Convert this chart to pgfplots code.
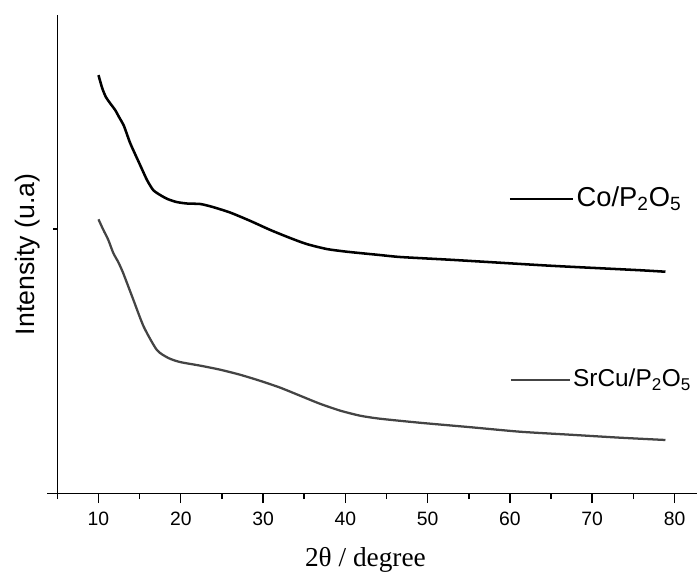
\documentclass[border=0pt]{standalone}
\usepackage{pgfplots}
\pgfplotsset{compat=1.18}
\usepackage{fontspec}
\setmainfont{Liberation Sans}
\newfontfamily\serif{Liberation Serif}
\definecolor{greyc}{RGB}{68,68,68}

\pgfplotstableread{
x y
10.0 418.7
10.45 405.7
10.9 396.7
11.4 390.7
12.03 383.7
12.5 376.7
13.1 367.7
13.85 350.7
14.95 330.7
15.9 313.7
16.65 303.7
17.5 298.7
18.4 294.7
19.5 291.7
20.8 290.2
22.4 289.7
23.9 286.7
26.0 281.2
28.4 273.0
30.9 263.7
33.3 255.7
35.3 249.7
37.75 244.7
40.2 242.0
44.2 238.7
46.7 236.7
52.7 234.0
58.8 231.0
64.9 228.0
70.9 225.5
75.8 223.5
78.9 222.0
}\cop

\pgfplotstableread{
x y
10.0 274.4
10.6 263.7
11.2 253.7
11.8 240.7
12.4 231.7
13.0 220.7
14.25 193.7
15.5 167.0
17.1 143.7
18.5 135.7
19.9 131.7
22.4 128.0
24.8 124.0
27.2 119.0
29.6 113.0
32.1 106.0
34.5 98.0
36.9 90.0
39.4 83.0
41.8 78.0
44.2 75.0
49.0 71.0
55.2 66.5
61.2 62.0
67.3 59.0
73.4 56.0
78.9 53.7
}\srcu

\begin{document}
\begin{tikzpicture}
\begin{axis}[
  at={(0,0)}, anchor=south west,
  scale only axis,
  width=493.8pt, height=359pt,
  xmin=5, xmax=85,
  ymin=0, ymax=478.7,
  axis x line*=bottom,
  axis y line*=left,
  axis line style={line width=1.2pt},
  xtick={10,20,...,80},
  minor xtick={5,15,...,85},
  ytick=\empty,
  tick align=outside,
  major tick length=7pt,
  minor tick length=4pt,
  every tick/.style={black, line width=1.1pt},
  tick label style={font=\fontsize{14.5}{16}\selectfont},
  /pgf/number format/assume math mode=true,
  xticklabel style={yshift=-3.5pt},
  xlabel={\serif 2θ / degree},
  xlabel style={font=\fontsize{20.5}{22}\selectfont, at={(axis description cs:0.468,0)}, anchor=center, yshift=-50pt},
  ylabel={Intensity (u.a)},
  ylabel style={font=\fontsize{20}{22}\selectfont, at={(axis description cs:0,0.5)}, anchor=center, yshift=22pt},
  clip=false,
]
\addplot[black, line width=1.9pt, smooth, tension=0.4] table {\cop};
\addplot[greyc, line width=1.7pt, smooth, tension=0.4] table {\srcu};
\draw[line width=1.1pt] (axis cs:5,264.7) -- ([xshift=-3.5pt]axis cs:5,264.7);
\draw[line width=1.2pt] (axis cs:5,0) -- ([xshift=-7.5pt]axis cs:5,0);
\draw[black, line width=1.7pt] (axis cs:60.0,294.7) -- (axis cs:67.65,294.7)
  node[right, inner sep=2pt, font=\fontsize{20.5}{22}\selectfont] {Co/P\textsubscript{2}O\textsubscript{5}};
\draw[greyc, line width=1.7pt] (axis cs:60.1,113.7) -- (axis cs:67.3,113.7)
  node[right, inner sep=1.5pt, text=black, font=\fontsize{18.3}{20}\selectfont] {SrCu/P\textsubscript{2}O\textsubscript{5}};
\end{axis}
\pgfresetboundingbox
\useasboundingbox (-43pt,-61.7pt) rectangle (479.8pt,370.3pt);
\end{tikzpicture}
\end{document}
